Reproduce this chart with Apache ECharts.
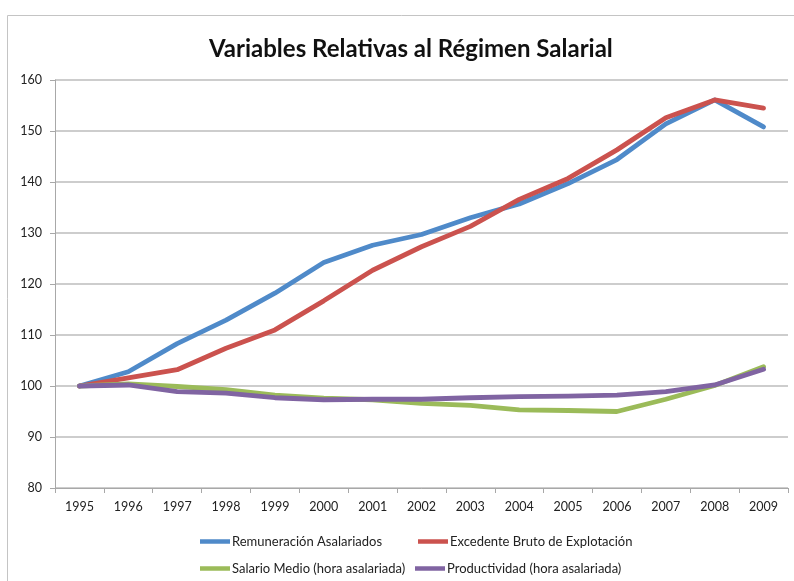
<!DOCTYPE html>
<html>
<head>
<meta charset="utf-8">
<script src="https://cdn.jsdelivr.net/npm/echarts@6/dist/echarts.min.js"></script>
<style>
html,body{margin:0;padding:0;background:#fff;}
#chart{width:794px;height:581px;}
</style>
</head>
<body>
<div id="chart"></div>
<script>
const categories = ['1995','1996','1997','1998','1999','2000','2001','2002','2003','2004','2005','2006','2007','2008','2009'];
const remuneracion = [100, 102.8, 108.3, 112.9, 118.2, 124.2, 127.6, 129.7, 133.0, 135.7, 139.7, 144.4, 151.4, 156.1, 150.8];
const excedente = [100, 101.6, 103.2, 107.4, 111.0, 116.7, 122.7, 127.3, 131.3, 136.6, 140.7, 146.3, 152.6, 156.1, 154.5];
const salarioMedio = [100, 100.4, 99.9, 99.3, 98.2, 97.6, 97.3, 96.6, 96.2, 95.3, 95.2, 95.0, 97.4, 100.1, 103.8];
const productividad = [100, 100.2, 98.9, 98.6, 97.7, 97.3, 97.4, 97.4, 97.7, 97.9, 98.0, 98.2, 98.9, 100.2, 103.3];
const seriesNames = ['Remuneración Asalariados', 'Excedente Bruto de Explotación', 'Salario Medio (hora asalariada)', 'Productividad (hora asalariada)'];
const titleText = 'Variables Relativas al Régimen Salarial';

const colors = ['#4F8AC9', '#CB524E', '#9BBB59', '#8064A2'];
const font = 'Lato, "Open Sans", sans-serif';

const chart = echarts.init(document.getElementById('chart'));
const mk = (name, data, color) => ({
  name: name, type: 'line', data: data, showSymbol: false, symbol: 'none',
  lineStyle: {width: 4.8, color: color, cap: 'round', join: 'round'},
  itemStyle: {color: color}, animation: false
});
const leg = (name, left, top) => ({
  data: [name], left: left, top: top, icon: 'rect', itemWidth: 30, itemHeight: 4.5,
  textStyle: {fontFamily: font, fontSize: 13, color: '#222', padding: [0, 0, 0, -3]}
});
chart.setOption({
  animation: false,
  color: colors,
  title: {
    text: titleText, left: 204, top: 32,
    textStyle: {fontFamily: font, fontSize: 24, fontWeight: 'bold', color: '#111'}
  },
  graphic: [{
    type: 'rect', shape: {x: 7.5, y: 15.5, width: 800, height: 575},
    style: {fill: 'none', stroke: '#c4c4c4', lineWidth: 1}, silent: true
  }],
  legend: [
    leg(seriesNames[0], 195, 530),
    leg(seriesNames[1], 413, 530),
    leg(seriesNames[2], 195, 557),
    leg(seriesNames[3], 410, 557)
  ],
  grid: {left: 55, right: 6, top: 80, bottom: 93, containLabel: false},
  xAxis: {
    type: 'category', data: categories, boundaryGap: true,
    axisLine: {lineStyle: {color: '#a8a8a8', width: 1}},
    axisTick: {show: true, length: 5, alignWithLabel: false, lineStyle: {color: '#a8a8a8'}},
    axisLabel: {fontFamily: font, fontSize: 12.5, color: '#222', margin: 12}
  },
  yAxis: {
    type: 'value', min: 80, max: 160, interval: 10,
    axisLine: {show: true, lineStyle: {color: '#a8a8a8', width: 1}},
    axisTick: {show: true, length: 5, lineStyle: {color: '#a8a8a8'}},
    axisLabel: {fontFamily: font, fontSize: 12.5, color: '#222', margin: 13},
    splitLine: {lineStyle: {color: '#bcbcbc', width: 1.5}}
  },
  series: [
    mk(seriesNames[0], remuneracion, colors[0]),
    mk(seriesNames[1], excedente, colors[1]),
    mk(seriesNames[2], salarioMedio, colors[2]),
    mk(seriesNames[3], productividad, colors[3])
  ]
});
</script>
</body>
</html>
